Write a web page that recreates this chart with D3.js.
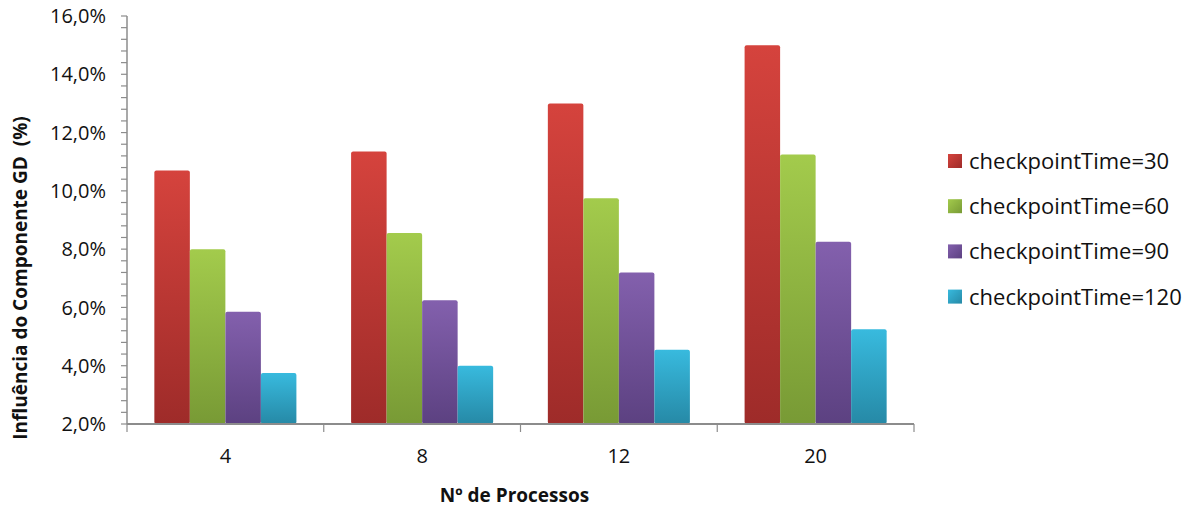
<!DOCTYPE html>
<html>
<head>
<meta charset="utf-8">
<script src="https://cdn.jsdelivr.net/npm/d3@7"></script>
<style>
  html, body { margin: 0; padding: 0; background: #fff; }
  svg { display: block; }
  text { font-family: "Open Sans", "Liberation Sans", sans-serif; fill: #111; }
</style>
</head>
<body>
<svg id="chart" width="1192" height="507"></svg>
<script>
// Number of processes on the x axis
const categories = ["4", "8", "12", "20"];

// One series per checkpoint interval (values in %)
const seriesNames = ["checkpointTime=30", "checkpointTime=60", "checkpointTime=90", "checkpointTime=120"];
const cp30  = [10.7, 11.35, 13.0, 15.0];
const cp60  = [8.0, 8.55, 9.75, 11.25];
const cp90  = [5.85, 6.25, 7.2, 8.25];
const cp120 = [3.75, 4.0, 4.55, 5.25];

const yTicks = [2, 4, 6, 8, 10, 12, 14, 16];

const seriesValues = [cp30, cp60, cp90, cp120];
const colorsTop = ["#d5433d", "#a3cb4c", "#8360ad", "#38bade"];
const colorsBottom = ["#9e2b29", "#789a35", "#5c4181", "#2689a6"];

const svg = d3.select("#chart");
const margin = { left: 127, top: 16, right: 1192 - 914, bottom: 507 - 424 };
const width = 1192 - margin.left - margin.right;
const height = 507 - margin.top - margin.bottom;

const defs = svg.append("defs");
seriesNames.forEach((n, i) => {
  const g = defs.append("linearGradient")
    .attr("id", "grad" + i).attr("x1", 0).attr("y1", 0).attr("x2", 0).attr("y2", 1);
  g.append("stop").attr("offset", "0%").attr("stop-color", colorsTop[i]);
  g.append("stop").attr("offset", "100%").attr("stop-color", colorsBottom[i]);
  const h = defs.append("linearGradient")
    .attr("id", "lgrad" + i).attr("x1", 0).attr("y1", 0).attr("x2", 1).attr("y2", 1);
  h.append("stop").attr("offset", "0%").attr("stop-color", colorsTop[i]);
  h.append("stop").attr("offset", "100%").attr("stop-color", colorsBottom[i]);
});

const g = svg.append("g").attr("transform", `translate(${margin.left},${margin.top})`);

const x0 = d3.scaleBand().domain(categories).range([0, width]).paddingInner(0).paddingOuter(0);
const x1 = d3.scaleBand().domain(d3.range(seriesNames.length))
  .range([0, x0.bandwidth()]).paddingOuter(0.77).paddingInner(0);
const y = d3.scaleLinear().domain([2, 16]).range([height, 0]);

// Bars
categories.forEach((c, ci) => {
  const grp = g.append("g").attr("transform", `translate(${x0(c)},0)`);
  seriesValues.forEach((vals, si) => {
    const v = vals[ci];
    grp.append("rect")
      .attr("x", x1(si))
      .attr("y", y(v))
      .attr("width", x1.bandwidth())
      .attr("height", y(2) - y(v))
      .attr("rx", 2).attr("ry", 2)
      .attr("fill", `url(#grad${si})`);
  });
});

// Y axis: minor ticks every 0.4%, major every 2%
const minor = d3.range(2, 16.001, 0.4);
const yAxis = g.append("g").attr("class", "y-axis");
yAxis.append("line")
  .attr("x1", 0).attr("x2", 0).attr("y1", y(16)).attr("y2", y(2))
  .attr("stroke", "#8c8c8c").attr("stroke-width", 1.5);
yAxis.selectAll(".minor").data(minor).join("line")
  .attr("x1", -6).attr("x2", 0)
  .attr("y1", d => y(d)).attr("y2", d => y(d))
  .attr("stroke", "#8c8c8c").attr("stroke-width", 1.2);
yAxis.selectAll(".lbl").data(yTicks).join("text")
  .attr("x", -21).attr("y", d => y(d)).attr("dy", "0.36em")
  .attr("text-anchor", "end").style("font-size", "20px")
  .text(d => d3.format(".1f")(d).replace(".", ",") + "%");

// X axis
const xAxis = g.append("g").attr("transform", `translate(0,${height})`);
xAxis.append("line").attr("x1", 0).attr("x2", width)
  .attr("stroke", "#8c8c8c").attr("stroke-width", 2);
const bounds = categories.map(c => x0(c)).concat([width]);
xAxis.selectAll(".tk").data(bounds).join("line")
  .attr("x1", d => d).attr("x2", d => d).attr("y1", 0).attr("y2", 8)
  .attr("stroke", "#8c8c8c").attr("stroke-width", 1.2);
xAxis.selectAll(".lbl").data(categories).join("text")
  .attr("x", d => x0(d) + x0.bandwidth() / 2).attr("y", 39)
  .attr("text-anchor", "middle").style("font-size", "20px")
  .text(d => d);

// Axis titles
svg.append("text")
  .attr("x", margin.left + width / 2 - 6).attr("y", 502)
  .attr("text-anchor", "middle").style("font-size", "19px").style("font-weight", "bold")
  .text("Nº de Processos");
svg.append("text")
  .attr("transform", `translate(27,278) rotate(-90)`)
  .attr("text-anchor", "middle").style("font-size", "19px").style("font-weight", "bold")
  .attr("xml:space", "preserve")
  .text("Influência do Componente GD  (%)");

// Legend
const legend = svg.append("g").attr("transform", "translate(948,161)");
seriesNames.forEach((n, i) => {
  const row = legend.append("g").attr("transform", `translate(0,${i * 45.2})`);
  row.append("rect").attr("x", 0).attr("y", -7).attr("width", 14).attr("height", 14)
    .attr("fill", `url(#lgrad${i})`);
  row.append("text").attr("x", 21).attr("y", 0).attr("dy", "0.36em")
    .style("font-size", "22px").text(n);
});
</script>
</body>
</html>
